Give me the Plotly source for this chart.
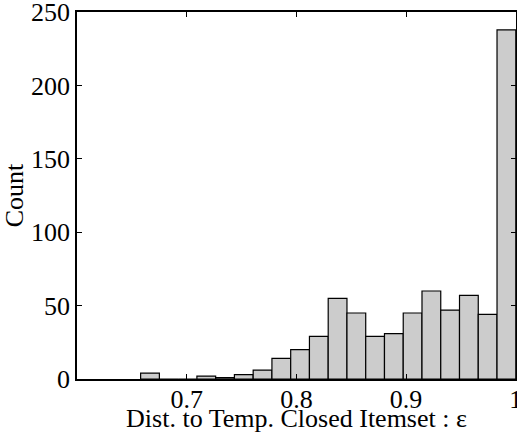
import plotly.graph_objects as go

# Histogram data (20 equal bins between bin_lo and bin_hi)
bin_lo = 0.658
bin_hi = 1.0
counts = [4, 0, 0, 2, 1, 3, 6, 14, 20, 29, 55, 45, 29, 31, 45, 60, 47, 57, 44, 238]

x_ticks = [0.7, 0.8, 0.9, 1.0]
x_tick_labels = ["0.7", "0.8", "0.9", "1"]
y_ticks = [0, 50, 100, 150, 200, 250]

n = len(counts)
w = (bin_hi - bin_lo) / n
centers = [bin_lo + (k + 0.5) * w for k in range(n)]

font = "Liberation Serif, Times New Roman, serif"

fig = go.Figure(go.Bar(
    x=centers, y=counts, width=[w] * n,
    marker=dict(color="#cccccc", line=dict(color="black", width=1.2)),
))

fig.update_layout(
    width=517, height=433,
    margin=dict(l=77, r=1, t=12, b=54),
    plot_bgcolor="white", paper_bgcolor="white",
    showlegend=False,
    font=dict(family=font, size=26, color="black"),
)
fig.update_xaxes(
    range=[0.6, 1.0002], tickvals=x_ticks, ticktext=x_tick_labels,
    ticks="inside", ticklen=5, tickcolor="black", tickwidth=1,
    showline=True, linecolor="black", linewidth=1.5, mirror="ticks",
    showgrid=False, zeroline=False,
    title=dict(text="Dist. to Temp. Closed Itemset : ε", standoff=0, font=dict(size=26)),
    tickfont=dict(size=26),
    ticklabeloverflow="allow",
    ticklabelstandoff=-4,
    automargin=False,
)
fig.update_yaxes(
    range=[0, 250.2], tickvals=y_ticks,
    ticks="inside", ticklen=5, tickcolor="black", tickwidth=1,
    showline=True, linecolor="black", linewidth=1.5, mirror="ticks",
    showgrid=False, zeroline=False,
    title=dict(text="Count", standoff=2, font=dict(size=26)),
    tickfont=dict(size=26),
    ticklabeloverflow="allow",
    automargin=False,
)

fig.write_html("out.html")
